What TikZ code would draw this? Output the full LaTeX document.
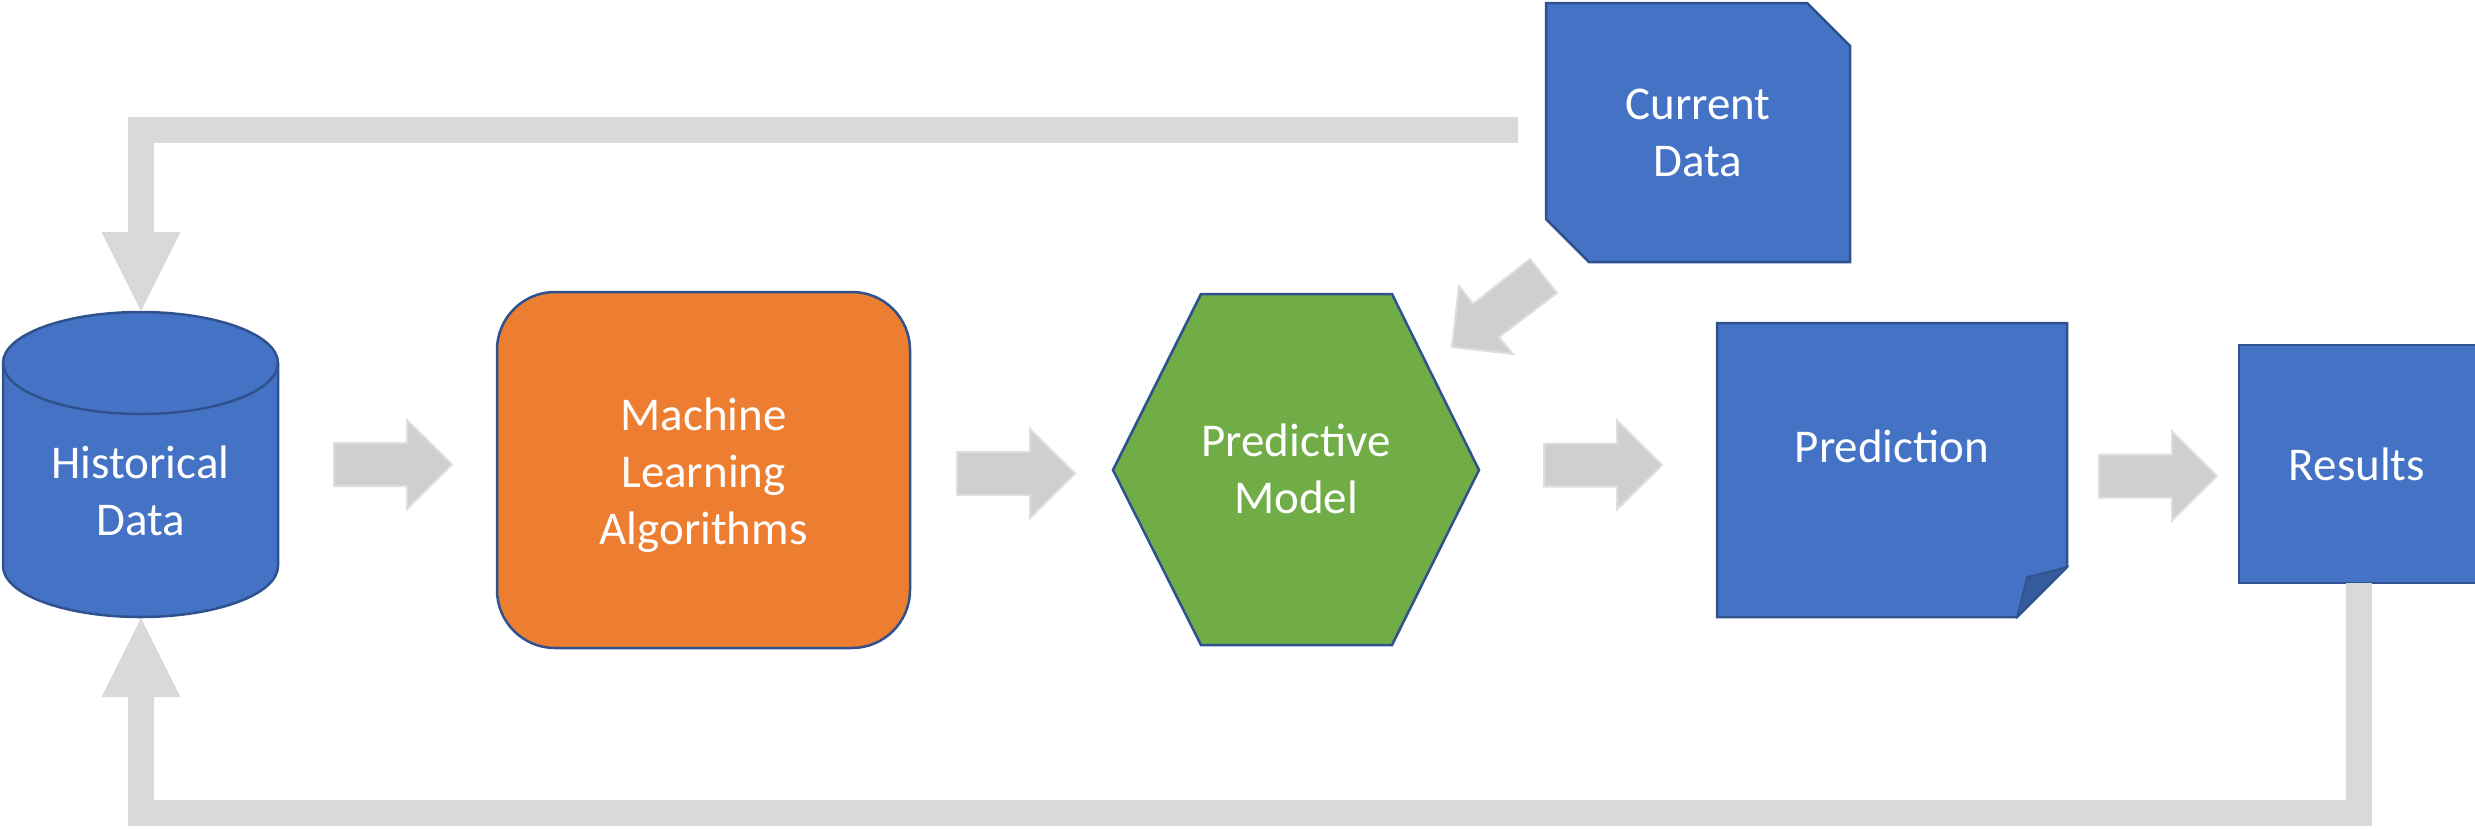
\documentclass[tikz,border=0pt]{standalone}
\usepackage{fontspec}
\setmainfont{Carlito}
\usetikzlibrary{calc}
\definecolor{boxblue}{HTML}{4472C4}
\definecolor{edgeblue}{HTML}{2F528F}
\definecolor{foldblue}{HTML}{365B9D}
\definecolor{mlorange}{HTML}{ED7D31}
\definecolor{modelgreen}{HTML}{70AD47}
\definecolor{loopgray}{HTML}{D9D9D9}
\definecolor{stepgray}{HTML}{D0CECE}
\definecolor{stepedge}{HTML}{DEDEDE}

\begin{document}
\begin{tikzpicture}[x=1pt,y=1pt,yscale=-1,
  labeltext/.style={text=white, align=center, inner sep=0pt,
    font=\fontsize{47}{57}\selectfont},
  shapeedge/.style={draw=edgeblue, line width=2.5pt, line join=miter},
  loopbar/.style={draw=loopgray, line width=26pt, line join=miter},
  loophead/.style={fill=loopgray},
  stepshape/.style={fill=stepgray, draw=stepedge, line width=2pt, line join=miter},
  steparrow/.pic={\path[stepshape] (0,-21.5) -- (73,-21.5) -- (73,-44.5)
    -- (118,0) -- (73,44.5) -- (73,21.5) -- (0,21.5) -- cycle;}
]
\useasboundingbox (0,0) rectangle (2475,828);

% Historical data store (cylinder)
\path[fill=boxblue, shapeedge] (3,363) -- (3,566)
  arc[start angle=180, end angle=0, x radius=137.5, y radius=51] -- (278,363)
  arc[start angle=0, end angle=-180, x radius=137.5, y radius=51] -- cycle;
\draw[shapeedge] (3,363) arc[start angle=180, end angle=0, x radius=137.5, y radius=51];
\node[labeltext] (hist) at (140.5,491) {Historical\\Data};
\coordinate (histtop) at (141,311);
\coordinate (histbottom) at (141,618);

% Learning algorithms
\node[labeltext, shapeedge, fill=mlorange, rounded corners=58,
  minimum width=413, minimum height=356] (ml) at (703.5,470) {};
\node[labeltext] (mltext) at (703.5,475) {Machine\\Learning\\Algorithms};

% Predictive model (hexagon)
\path[fill=modelgreen, shapeedge] (1113,470) -- (1201,294) -- (1392,294)
  -- (1479,470) -- (1392,645) -- (1201,645) -- cycle;
\node[labeltext] (model) at (1296,469) {Predictive\\Model};

% Current data (snipped corners)
\path[fill=boxblue, shapeedge] (1546,3) -- (1807,3) -- (1850,46) -- (1850,262)
  -- (1589,262) -- (1546,219) -- cycle;
\node[labeltext] (cur) at (1698,133) {Current\\Data};
\coordinate (curout) at (1518,130);

% Prediction (folded corner)
\path[fill=boxblue, shapeedge] (1717,323) -- (2067,323) -- (2067,567)
  -- (2017,617) -- (1717,617) -- cycle;
\path[fill=foldblue, draw=edgeblue, line width=1.5pt, line join=miter]
  (2017,617) -- (2027,577) -- (2067,567) -- cycle;
\node[labeltext, anchor=base] (pred) at (1892,462) {Prediction};

% Results
\path[fill=boxblue, shapeedge] (2239,345) rectangle (2477,583);
\node[labeltext, anchor=base] (res) at (2357,480) {Results};
\coordinate (resout) at (2359,583);

% Step arrows between stages
\pic at (334,464.5) {steparrow};
\pic at (957,473.5) {steparrow};
\pic at (1544,465) {steparrow};
\pic at (2099,476) {steparrow};

% Current data flowing into the model
\path[stepshape] (1530,259) -- (1557,293) -- (1499,337) -- (1513,354)
  -- (1452,347) -- (1459,286) -- (1473,304) -- cycle;

% Feedback loops into the historical data
\draw[loopbar] (curout) -| ($(histtop)+(0,-79)$);
\fill[loophead] (histtop) -- ++(-39.5,-79) -- ++(79,0) -- cycle;
\draw[loopbar] (resout) |- (141,813) -- ($(histbottom)+(0,79)$);
\fill[loophead] (histbottom) -- ++(-39.5,79) -- ++(79,0) -- cycle;
\end{tikzpicture}
\end{document}
